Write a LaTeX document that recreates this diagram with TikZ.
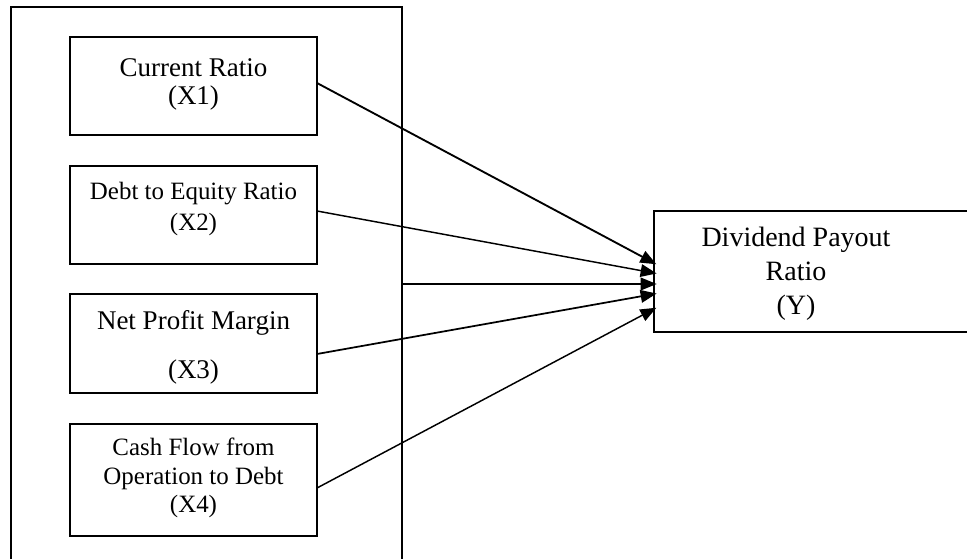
\documentclass[tikz,border=0pt]{standalone}
\usepackage{fontspec}
\setmainfont{Liberation Serif}
\usetikzlibrary{arrows.meta,calc}
\begin{document}
\begin{tikzpicture}[x=0.75pt,y=-0.75pt,
  box/.style={draw,line width=1.1pt,inner sep=0pt,outer sep=0pt,minimum width=185.25pt},
  txt/.style={align=center,inner sep=0pt},
  link/.style={line width=1.1pt,-{Triangle[length=12pt,width=9.5pt]},shorten >=-2pt}]
\clip (0,0) rectangle (967,559);
\fill[white] (0,0) rectangle (967,559);
% outer frame
\node[draw,line width=1.1pt,inner sep=0pt,outer sep=0pt,minimum width=293.25pt,minimum height=415.5pt] (frame) at (206.5,284) {};
% boxes
\node[box,minimum height=73.5pt] (b1) at (193.5,86) {};
\node[box,minimum height=73.5pt] (b2) at (193.5,215) {};
\node[box,minimum height=74.25pt] (b3) at (193.5,343.5) {};
\node[box,minimum height=84pt] (b4) at (193.5,480) {};
\node[draw,line width=1.1pt,inner sep=0pt,outer sep=0pt,minimum width=237pt,minimum height=90.75pt] (y) at (812,271.5) {};
% texts
\node[txt,font=\fontsize{20.25}{21}\selectfont] (t1) at (193.5,84) {Current Ratio\\(X1)};
\node[txt,font=\fontsize{18.7}{23.25}\selectfont] (t2) at (193.5,209) {Debt to Equity Ratio\\(X2)};
\node[txt,font=\fontsize{20.25}{36.75}\selectfont] (t3) at (193.5,347) {Net Profit Margin\\(X3)};
\node[txt,font=\fontsize{18.7}{21.4}\selectfont] (t4) at (193.5,478) {Cash Flow from\\Operation to Debt\\(X4)};
\node[txt,font=\fontsize{21}{25.5}\selectfont] (ty) at (796,274) {Dividend Payout\\Ratio\\(Y)};
% connectors
\draw[link,line width=1.4pt] ($(b1.east)+(0,-3)$) -- ($(y.west)+(0,-8.5)$);
\draw[link] ($(b2.east)+(0,-4)$) -- ($(y.west)+(0,1.5)$);
\draw[link] (frame.east) -- ($(y.west)+(0,12.5)$);
\draw[link,line width=1.3pt] ($(b3.east)+(0,10.5)$) -- ($(y.west)+(0,22.5)$);
\draw[link] ($(b4.east)+(0,8)$) -- ($(y.west)+(0,37.5)$);
\end{tikzpicture}
\end{document}
